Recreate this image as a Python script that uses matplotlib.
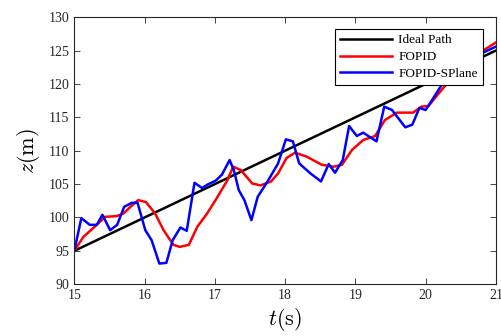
import numpy as np
import matplotlib
matplotlib.use('Agg')
import matplotlib.pyplot as plt

plt.rcParams['font.family'] = ['Liberation Serif', 'DejaVu Serif']
plt.rcParams['mathtext.fontset'] = 'cm'

# 理想路径
t_ideal = [15, 21]
z_ideal = [95, 125]

# FOPID
t_fopid = [15.0, 15.13, 15.32, 15.44, 15.6, 15.7, 15.8, 15.91, 16.02, 16.15, 16.27, 16.41,
           16.5, 16.63, 16.75, 16.89, 17.01, 17.18, 17.26, 17.37, 17.53, 17.65, 17.8,
           17.9, 18.02, 18.14, 18.31, 18.52, 18.69, 18.81, 18.95, 19.11, 19.28, 19.42,
           19.59, 19.82, 19.94, 20.04, 20.25, 20.5, 20.8, 21.0]
z_fopid = [95.0, 97.1, 98.9, 100.1, 100.2, 100.6, 101.6, 102.6, 102.3, 100.6, 98.1, 95.9,
           95.6, 95.9, 98.6, 100.6, 102.6, 105.6, 107.6, 107.1, 105.1, 104.8, 105.4,
           106.6, 108.9, 109.7, 109.1, 107.9, 107.6, 107.9, 110.1, 111.6, 112.2, 114.6,
           115.7, 115.7, 116.6, 116.7, 119.4, 122.2, 124.9, 126.2]

# FOPID-SPlane
t_splane = [15.0, 15.1, 15.22, 15.32, 15.4, 15.51, 15.61, 15.71, 15.82, 15.9, 16.01, 16.1,
            16.21, 16.31, 16.4, 16.51, 16.6, 16.71, 16.82, 16.89, 17.01, 17.1, 17.21,
            17.27, 17.34, 17.42, 17.52, 17.61, 17.75, 17.9, 18.01, 18.11, 18.2, 18.36,
            18.51, 18.62, 18.71, 18.82, 18.91, 19.02, 19.11, 19.3, 19.41, 19.52, 19.71,
            19.81, 19.91, 20.0, 20.11, 20.23, 20.5, 20.8, 21.0]
z_splane = [95.0, 99.9, 98.9, 98.9, 100.4, 98.1, 98.9, 101.6, 102.2, 102.2, 98.1, 96.6,
            93.1, 93.2, 96.6, 98.5, 98.0, 105.2, 104.4, 104.9, 105.5, 106.4, 108.6,
            107.1, 104.1, 102.6, 99.6, 103.1, 105.4, 108.1, 111.7, 111.4, 108.1, 106.6,
            105.4, 108.0, 106.7, 108.6, 113.7, 112.2, 112.7, 111.4, 116.6, 116.1, 113.5,
            113.9, 116.4, 116.1, 117.9, 119.9, 122.5, 124.6, 125.6]

fig = plt.figure(figsize=(5.02, 3.36), dpi=100)
ax = fig.add_axes([0.148, 0.154, 0.840, 0.795])

ax.plot(t_ideal, z_ideal, color='k', lw=1.8, label='Ideal Path')
ax.plot(t_fopid, z_fopid, color='#ff0000', lw=1.8, label='FOPID')
ax.plot(t_splane, z_splane, color='#0000ff', lw=1.8, label='FOPID-SPlane')

ax.set_xlim(15, 21)
ax.set_ylim(90, 130)
ax.set_xticks(np.arange(15, 22, 1))
ax.set_yticks(np.arange(90, 131, 5))
ax.tick_params(direction='in', top=True, right=True, labelsize=10,
               colors='#262626', length=4, width=0.6)
for s in ax.spines.values():
    s.set_color('#262626')
    s.set_linewidth(0.8)

ax.set_xlabel(r'$t(\mathrm{s})$', fontsize=16, labelpad=3)
ax.set_ylabel(r'$z(\mathrm{m})$', fontsize=16, labelpad=5)

leg = ax.legend(loc='upper right', bbox_to_anchor=(0.969, 0.956), borderaxespad=0,
                fontsize=9.5, handlelength=3.9, labelspacing=0.35, fancybox=False,
                framealpha=1, edgecolor='k', borderpad=0.4, handletextpad=0.5)
leg.get_frame().set_linewidth(0.8)

fig.savefig('out.png', dpi=100)
